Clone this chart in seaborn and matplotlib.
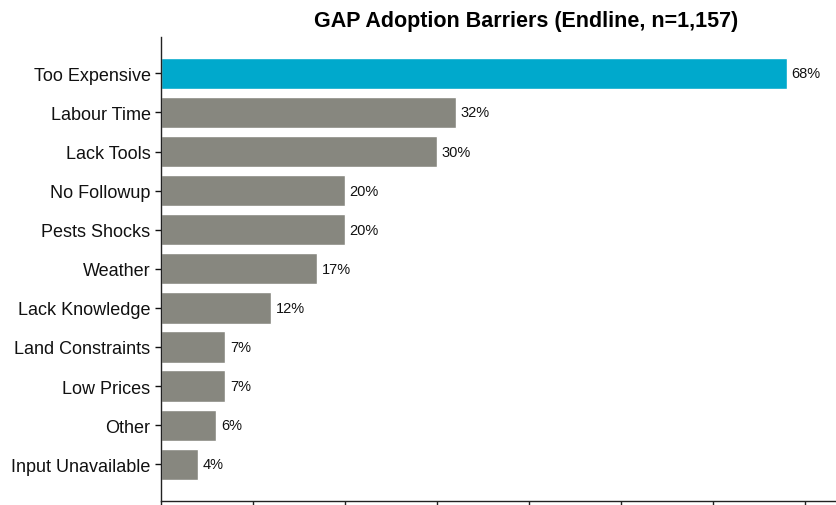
import matplotlib
matplotlib.use("Agg")
import matplotlib.pyplot as plt
import seaborn as sns
import pandas as pd

barriers = ["Too Expensive", "Labour Time", "Lack Tools", "No Followup", "Pests Shocks",
            "Weather", "Lack Knowledge", "Land Constraints", "Low Prices", "Other",
            "Input Unavailable"]
shares = [68, 32, 30, 20, 20, 17, 12, 7, 7, 6, 4]
highlight = "#00A9CC"
base = "#87877F"

df = pd.DataFrame({"barrier": barriers, "share": shares})
df["group"] = ["top"] + ["rest"] * (len(barriers) - 1)

sns.set_theme(style="ticks")
plt.rcParams["font.family"] = ["Liberation Sans", "DejaVu Sans"]

fig = plt.figure(figsize=(8.37, 5.06), dpi=100)
ax = fig.add_axes([161 / 837, 4 / 506, 730 / 837, 464 / 506])

sns.barplot(data=df, y="barrier", x="share", hue="group", orient="h",
            palette={"top": highlight, "rest": base}, dodge=False, legend=False,
            width=0.8, edgecolor="white", linewidth=1, saturation=1, ax=ax)

for i, v in enumerate(shares):
    ax.text(v + 0.5, i, f"{v}%", va="center", ha="left", fontsize=10.5, color="#111111")

ax.set_xlim(0, 79.3)
ax.set_ylim(len(barriers) - 1 + 0.94, -0.93)
ax.set_xticks(range(0, 80, 10))
ax.set_xticklabels([])
ax.set_xlabel("")
ax.set_ylabel("")
ax.tick_params(axis="y", labelsize=13, length=4, width=1, colors="#111111")
ax.tick_params(axis="x", length=4, width=1, colors="#222222")
for side in ("top", "right"):
    ax.spines[side].set_visible(False)
for side in ("left", "bottom"):
    ax.spines[side].set_color("#222222")
    ax.spines[side].set_linewidth(1)
ax.set_title("GAP Adoption Barriers (Endline, n=1,157)", fontsize=15.5,
             fontweight="bold", color="black", pad=8)

fig.savefig("out.png", dpi=100)
